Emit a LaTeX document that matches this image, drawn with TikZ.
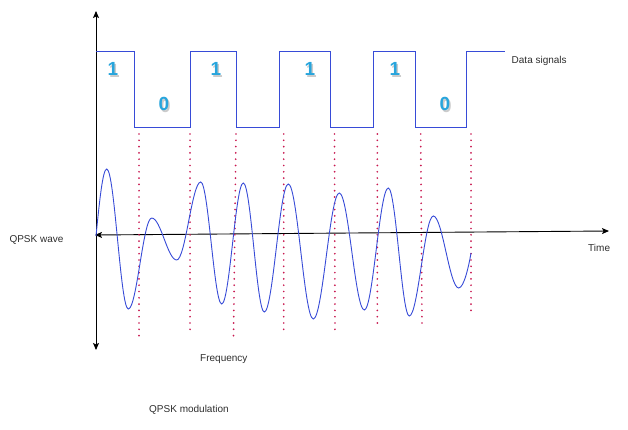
\documentclass[tikz,border=0pt]{standalone}
\usepackage{fontspec}
\setmainfont{Liberation Sans}
\usetikzlibrary{arrows.meta}
\definecolor{sigblue}{RGB}{55,75,215}
\definecolor{dotred}{RGB}{200,25,80}
\definecolor{digitblue}{RGB}{40,165,220}
\definecolor{txtgray}{RGB}{45,45,45}
\tikzset{
  axis/.style={line width=0.9pt, black, {Stealth[length=7pt,width=6pt,inset=1.5pt]}-{Stealth[length=7pt,width=6pt,inset=1.5pt]}},
  sig/.style={line width=1pt, sigblue, line join=miter},
  marker/.style={dotred, line width=1.9pt, line cap=round, dash pattern=on 0pt off 6.3pt},
  lbl/.style={font=\fontsize{10}{12}\selectfont, text=txtgray, inner sep=0pt},
  digit/.style={font=\fontsize{19}{20}\selectfont\bfseries, text=digitblue, inner sep=0pt},
  digitshadow/.style={font=\fontsize{19}{20}\selectfont\bfseries, text=black!45, opacity=0.45, inner sep=0pt}
}
\begin{document}
\begin{tikzpicture}[x=1pt,y=-1pt]
\useasboundingbox (0,0) rectangle (628,430);
% axes
\coordinate (vtop) at (96,11);
\coordinate (vbot) at (96,350);
\coordinate (hl) at (95,235);
\coordinate (hr) at (609,231);
\draw[axis] (vbot) -- (vtop);
\draw[axis] (hl) -- (hr);
% data signal
\draw[sig] (96,52) -- (134.3,52) -- (134.3,128) -- (190,128) -- (190,52) -- (236.7,52) -- (236.7,128) -- (279.3,128) -- (279.3,52) -- (330.7,52) -- (330.7,128) -- (373.3,128) -- (373.3,52) -- (415.7,52) -- (415.7,128) -- (466.7,128) -- (466.7,52) -- (505,52);
% digits
\foreach \x/\y/\d [count=\i] in {113/69/1,164/104/0,216/69/1,310/69/1,395/69/1,445/104/0}{
  \node[digitshadow] (ds\i) at (\x+1.5,\y+1.5) {\d};
  \node[digit] (d\i) at (\x,\y) {\d};
}
% dotted markers
\foreach \xa/\xb/\yb [count=\i] in {139/139/340,190/190/333,236/233.5/337,283.7/283.7/332,334.5/335/333,377.3/377.3/329,420.7/422/323,471/471/315}{
  \coordinate (mt\i) at (\xa,134);
  \coordinate (mb\i) at (\xb,\yb);
  \draw[marker] (mt\i) -- (mb\i);
}
% QPSK wave
\draw[sig, line width=0.9pt] (96,236) .. controls (99.5,201) and (102.8,169) .. (106.7,169)
  .. controls (114.6,169) and (120.4,309) .. (128.3,309)
  .. controls (136.8,309) and (143.2,218) .. (151.7,218)
  .. controls (160.8,218) and (167.6,260) .. (176.7,260)
  .. controls (185.4,260) and (192,182) .. (200.7,182)
  .. controls (208.3,182) and (214.1,304) .. (221.7,304)
  .. controls (229.6,304) and (235.5,183) .. (243.3,183)
  .. controls (250.9,183) and (256.7,312) .. (264.3,312)
  .. controls (273,312) and (279.6,184) .. (288.3,184)
  .. controls (297.4,184) and (304.2,319) .. (313.3,319)
  .. controls (322.7,319) and (329.9,193) .. (339.3,193)
  .. controls (348.4,193) and (355.2,310) .. (364.3,310)
  .. controls (373,310) and (379.6,188) .. (388.3,188)
  .. controls (395.9,188) and (401.7,316) .. (409.3,316)
  .. controls (418,316) and (424.6,216) .. (433.3,216)
  .. controls (442.5,216) and (449.5,288) .. (458.7,288)
  .. controls (464,288) and (469,265) .. (471,253);
% labels
\node[lbl, anchor=west] (data) at (511.5,61) {Data signals};
\node[lbl, anchor=west] (wave) at (9.3,240) {QPSK wave};
\node[lbl, anchor=west] (time) at (588,248) {Time};
\node[lbl, anchor=west] (freq) at (200,359) {Frequency};
\node[lbl, anchor=west] (mod) at (149,410) {QPSK modulation};
\end{tikzpicture}
\end{document}
